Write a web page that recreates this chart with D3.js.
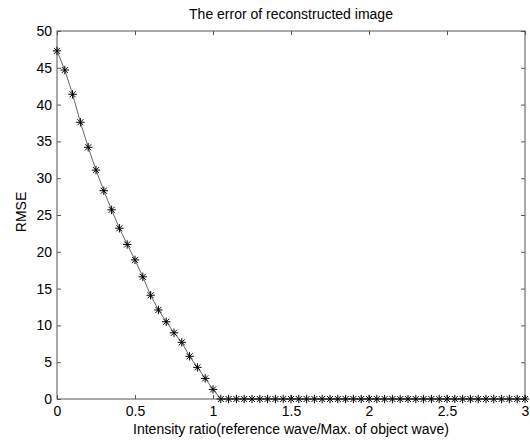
<!DOCTYPE html>
<html>
<head>
<meta charset="utf-8">
<script src="https://cdn.jsdelivr.net/npm/d3@7"></script>
<style>
  body { margin: 0; background: #fff; }
  text { font-family: "Liberation Sans", Arial, sans-serif; fill: #000; }
</style>
</head>
<body>
<svg id="chart" width="530" height="441"></svg>
<script>
const ratio = [
  0, 0.05, 0.1, 0.15, 0.2, 0.25, 0.3, 0.35, 0.4, 0.45,
  0.5, 0.55, 0.6, 0.65, 0.7, 0.75, 0.8, 0.85, 0.9, 0.95,
  1, 1.05, 1.1, 1.15, 1.2, 1.25, 1.3, 1.35, 1.4, 1.45,
  1.5, 1.55, 1.6, 1.65, 1.7, 1.75, 1.8, 1.85, 1.9, 1.95,
  2, 2.05, 2.1, 2.15, 2.2, 2.25, 2.3, 2.35, 2.4, 2.45,
  2.5, 2.55, 2.6, 2.65, 2.7, 2.75, 2.8, 2.85, 2.9, 2.95, 3
];
const rmse = [
  47.3, 44.7, 41.4, 37.6, 34.2, 31.1, 28.3, 25.7, 23.2, 21.0,
  18.9, 16.6, 14.1, 12.1, 10.5, 9.0, 7.7, 5.8, 4.3, 2.8,
  1.3, 0, 0, 0, 0, 0, 0, 0, 0, 0,
  0, 0, 0, 0, 0, 0, 0, 0, 0, 0,
  0, 0, 0, 0, 0, 0, 0, 0, 0, 0,
  0, 0, 0, 0, 0, 0, 0, 0, 0, 0, 0
];
const xTicks = [0, 0.5, 1, 1.5, 2, 2.5, 3];
const yTicks = [0, 5, 10, 15, 20, 25, 30, 35, 40, 45, 50];

const plotLeft = 57, plotRight = 525, plotTop = 31, plotBottom = 399;
const svg = d3.select("#chart");

const x = d3.scaleLinear().domain([0, 3]).range([plotLeft, plotRight]);
const y = d3.scaleLinear().domain([0, 50]).range([plotBottom, plotTop]);

const axisColor = "#555";
const fontSize = 14;

// box
svg.append("rect")
  .attr("x", plotLeft).attr("y", plotTop)
  .attr("width", plotRight - plotLeft).attr("height", plotBottom - plotTop)
  .attr("fill", "none").attr("stroke", axisColor).attr("stroke-width", 1);

// inward ticks, matlab style
const fmt = (d) => String(d);
const tickLen = 4;

svg.append("g")
  .attr("transform", `translate(0,${plotBottom})`)
  .call(d3.axisBottom(x).tickValues(xTicks).tickSize(-tickLen).tickPadding(7).tickFormat(fmt))
  .call(g => g.select(".domain").remove())
  .call(g => g.selectAll("line").attr("stroke", axisColor))
  .call(g => g.selectAll("text").attr("font-size", fontSize).attr("font-family", "Liberation Sans, Arial, sans-serif"));

svg.append("g")
  .attr("transform", `translate(0,${plotTop})`)
  .call(d3.axisTop(x).tickValues(xTicks).tickSize(-tickLen).tickFormat(""))
  .call(g => g.select(".domain").remove())
  .call(g => g.selectAll("line").attr("stroke", axisColor));

svg.append("g")
  .attr("transform", `translate(${plotLeft},0)`)
  .call(d3.axisLeft(y).tickValues(yTicks).tickSize(-tickLen).tickPadding(5).tickFormat(fmt))
  .call(g => g.select(".domain").remove())
  .call(g => g.selectAll("line").attr("stroke", axisColor))
  .call(g => g.selectAll("text").attr("font-size", fontSize).attr("font-family", "Liberation Sans, Arial, sans-serif"));

svg.append("g")
  .attr("transform", `translate(${plotRight},0)`)
  .call(d3.axisRight(y).tickValues(yTicks).tickSize(-tickLen).tickFormat(""))
  .call(g => g.select(".domain").remove())
  .call(g => g.selectAll("line").attr("stroke", axisColor));

const data = ratio.map((r, i) => ({ r: r, v: rmse[i] }));

const line = d3.line().x(d => x(d.r)).y(d => y(d.v));

svg.append("path")
  .datum(data)
  .attr("d", line)
  .attr("fill", "none")
  .attr("stroke", "#666")
  .attr("stroke-width", 1);

// asterisk markers
const s = 4.2, sd = 3;
const marks = svg.append("g").attr("stroke", "#000").attr("stroke-width", 1);
marks.selectAll("path")
  .data(data)
  .enter()
  .append("path")
  .attr("d", d => {
    const cx = x(d.r), cy = y(d.v);
    return `M${cx - s},${cy}H${cx + s}M${cx},${cy - s}V${cy + s}` +
      `M${cx - sd},${cy - sd}L${cx + sd},${cy + sd}M${cx - sd},${cy + sd}L${cx + sd},${cy - sd}`;
  });

svg.append("text")
  .attr("x", (plotLeft + plotRight) / 2).attr("y", 19)
  .attr("text-anchor", "middle").attr("font-size", fontSize)
  .text("The error of reconstructed image");

svg.append("text")
  .attr("x", (plotLeft + plotRight) / 2).attr("y", 434)
  .attr("text-anchor", "middle").attr("font-size", fontSize)
  .text("Intensity ratio(reference wave/Max. of object wave)");

svg.append("text")
  .attr("transform", `translate(26,${(plotTop + plotBottom) / 2 - 3}) rotate(-90)`)
  .attr("text-anchor", "middle").attr("font-size", fontSize)
  .text("RMSE");
</script>
</body>
</html>
